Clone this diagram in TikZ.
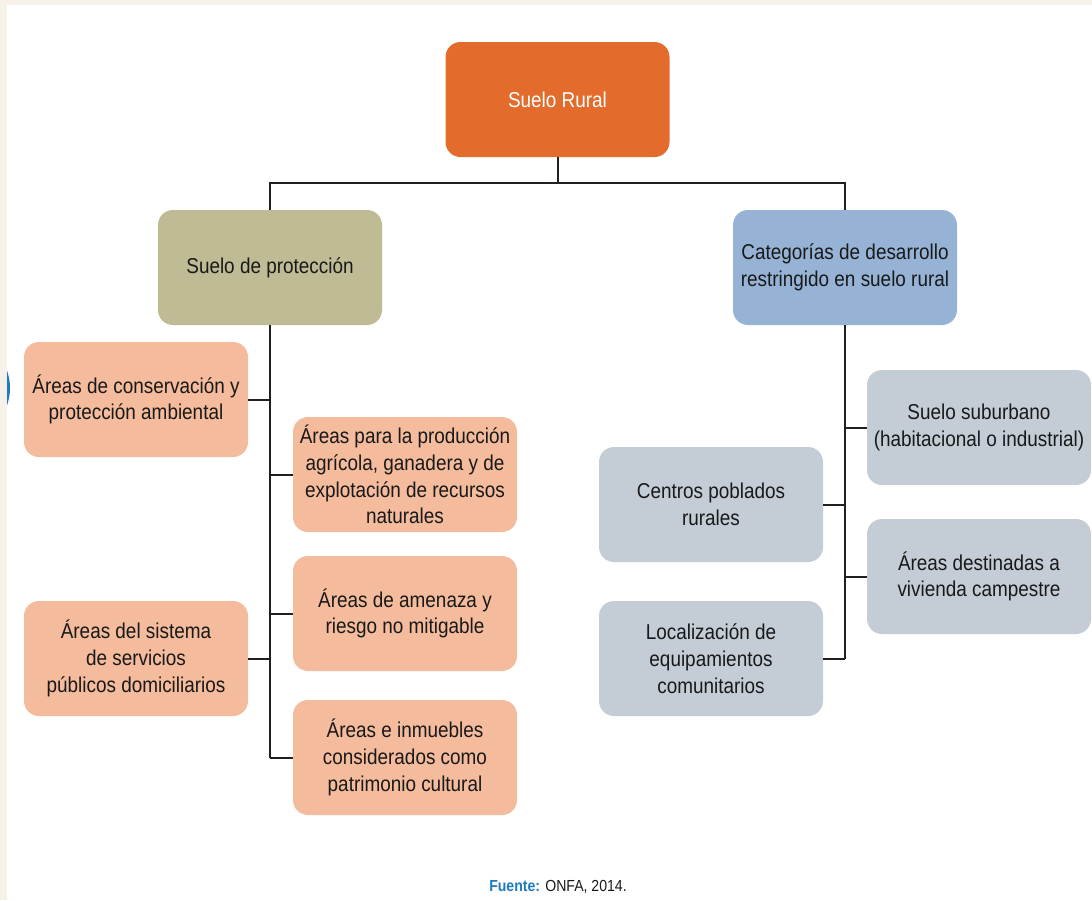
\documentclass[tikz,border=0pt]{standalone}
\usepackage{fontspec}
\setmainfont{Liberation Sans}[FakeStretch=0.88]
\usepackage{tikz}
\usetikzlibrary{positioning}

\definecolor{pagecream}{HTML}{F6F1E9}
\definecolor{rootorange}{HTML}{E36C2C}
\definecolor{protolive}{HTML}{BFBB94}
\definecolor{catblue}{HTML}{96B3D6}
\definecolor{areasalmon}{HTML}{F4BB9C}
\definecolor{catgrey}{HTML}{C4CDD6}
\definecolor{srcblue}{HTML}{1E7BC0}
\definecolor{linkblack}{HTML}{231F20}

\tikzset{
  soilbox/.style = {rectangle, rounded corners=15pt, minimum width=224pt,
    minimum height=115pt, align=center, inner sep=4pt,
    font=\fontsize{21.5}{26.7}\selectfont, text=black!90},
  link/.style = {draw=linkblack, line width=2pt}
}

\begin{document}
\begin{tikzpicture}[x=1pt, y=-1pt]
  \useasboundingbox (0,0) rectangle (1092,900);
  \fill[pagecream] (0,0) rectangle (1092,900);
  \fill[white] (7,5) rectangle (1092,900);
  \begin{scope}
    \clip (7,5) rectangle (1092,900);
    \fill[srcblue] (-42,388) circle (52);
  \end{scope}

  % top level
  \node[soilbox, fill=rootorange, text=white] (rural) at (557.5,99.5) {Suelo Rural};
  \node[soilbox, fill=protolive] (prot) at (270,267.5) {Suelo de protección};
  \node[soilbox, fill=catblue] (cat) at (845,267.5) {Categorías de desarrollo\\restringido en suelo rural};

  % suelo de proteccion
  \node[soilbox, fill=areasalmon] (cons) at (136,399.5) {Áreas de conservación y\\protección ambiental};
  \node[soilbox, fill=areasalmon] (prod) at (405,474.5) {Áreas para la producción\\agrícola, ganadera y de\\explotación de recursos\\naturales};
  \node[soilbox, fill=areasalmon] (amen) at (405,613.5) {Áreas de amenaza y\\riesgo no mitigable};
  \node[soilbox, fill=areasalmon] (serv) at (136,658.5) {Áreas del sistema\\de servicios\\públicos domiciliarios};
  \node[soilbox, fill=areasalmon] (patr) at (405,757.5) {Áreas e inmuebles\\considerados como\\patrimonio cultural};

  % desarrollo restringido
  \node[soilbox, fill=catgrey] (subu) at (979,427.5) {Suelo suburbano\\(habitacional o industrial)};
  \node[soilbox, fill=catgrey] (cent) at (711,504.5) {Centros poblados\\rurales};
  \node[soilbox, fill=catgrey] (camp) at (979,576.5) {Áreas destinadas a\\vivienda campestre};
  \node[soilbox, fill=catgrey] (equi) at (711,658.5) {Localización de\\equipamientos\\comunitarios};

  % connectors
  \draw[link] (rural.south) -- ++(0,26) coordinate (bar);
  \draw[link] (prot.north) |- (bar) -| (cat.north);
  \coordinate (lend) at (prot.south |- patr.west);
  \coordinate (rend) at (cat.south |- equi.east);
  \draw[link] (prot.south) -- (lend);
  \draw[link] (cat.south) -- (rend);
  \foreach \n in {cons,serv} \draw[link] (\n.east) -- (\n.east -| prot.south);
  \foreach \n in {prod,amen,patr} \draw[link] (\n.west) -- (\n.west -| prot.south);
  \foreach \n in {cent,equi} \draw[link] (\n.east) -- (\n.east -| cat.south);
  \foreach \n in {subu,camp} \draw[link] (\n.west) -- (\n.west -| cat.south);

  \node[font=\fontsize{16}{19}\selectfont, text=black!90] (src) at (558,887)
    {\textcolor{srcblue}{\bfseries Fuente:} ONFA, 2014.};
\end{tikzpicture}
\end{document}
